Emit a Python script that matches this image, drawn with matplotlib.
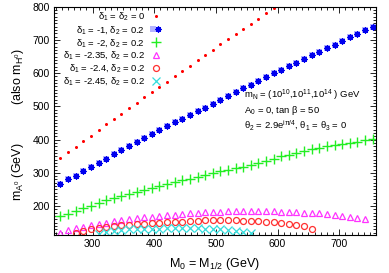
import numpy as np
import matplotlib
matplotlib.use('Agg')
import matplotlib.pyplot as plt
from matplotlib.ticker import MultipleLocator
from matplotlib.legend_handler import HandlerTuple

plt.rcParams['font.family'] = ['Liberation Sans', 'DejaVu Sans']
plt.rcParams['mathtext.fontset'] = 'custom'
plt.rcParams['mathtext.rm'] = 'Liberation Sans'
plt.rcParams['mathtext.it'] = 'Liberation Sans'
plt.rcParams['mathtext.bf'] = 'Liberation Sans'

# M0 = M1/2 grid (GeV)
m0 = np.linspace(248, 754, 42)

# m_A0 (GeV) for each delta choice
red_dots = [345, 364, 379, 396, 412, 429, 446, 462, 478, 495, 511, 528, 543, 559,
            574, 590, 607, 622, 639, 654, 670, 687, 702, 718, 733, 749, 764, 780,
            796, 812]
blue_star = [266, 280, 292, 305, 317, 330, 342, 356, 368, 380, 393, 404, 416, 428,
             441, 454, 463, 475, 485, 496, 507, 518, 530, 542, 554, 565, 576, 587,
             600, 609, 621, 631, 643, 654, 664, 675, 685, 696, 708, 717, 729, 740]
green_plus = [169, 177, 185, 194, 201, 209, 217, 223, 230, 236, 243, 249, 255, 260,
              267, 273, 278, 283, 288, 294, 299, 305, 309, 314, 318, 323, 329, 337,
              342, 350, 355, 361, 366, 371, 375, 380, 384, 387, 390, 394, 398, 402]
mag_tri = [120, 127, 133, 138, 142, 147, 150, 154, 157, 160, 163, 166, 168, 170,
           172, 174, 176, 178, 180, 182, 182, 183, 184, 184, 185, 185, 185, 184,
           184, 183, 182, 181, 180, 179, 178, 176, 173, 171, 168, 165, 160]
circ_start = 2
red_circ = [118, 124, 130, 134, 138, 140, 142, 144, 146, 147, 148, 149, 151, 152,
            153, 155, 156, 157, 157, 157, 157, 157, 156, 155, 154, 153, 151, 149,
            147, 144, 139, 131]
cross_start = 5
cyan_x = [115, 121, 125, 128, 130, 131, 132, 132, 132, 133, 133, 133, 133, 133,
          132, 132, 131, 129, 126, 123, 119]

labels = ['δ$_1$ = δ$_2$ = 0', 'δ$_1$ = -1, δ$_2$ = 0.2', 'δ$_1$ = -2, δ$_2$ = 0.2',
          'δ$_1$ = -2.35, δ$_2$ = 0.2', 'δ$_1$ = -2.4, δ$_2$ = 0.2',
          'δ$_1$ = -2.45, δ$_2$ = 0.2']

fig = plt.figure(figsize=(3.89, 2.73), dpi=100)
ax = fig.add_axes([0.1396, 0.1392, 0.8262, 0.8363])

h1, = ax.plot(m0[:len(red_dots)], red_dots, 'o', color='#ff0000', ms=2.2, mew=0)
hb1, = ax.plot(m0[:len(blue_star)], blue_star, 's', color='#b4b4ff', ms=4.3, mew=0)
hb2, = ax.plot(m0[:len(blue_star)], blue_star, marker=(8, 2, 0), ls='none',
               color='#0000ee', ms=4.3, mew=0.9)
h3, = ax.plot(m0[:len(green_plus)], green_plus, '+', color='#22ee22', ms=6.5, mew=1.0)
h4, = ax.plot(m0[:len(mag_tri)], mag_tri, '^', mfc='none', mec='#ff33ff', ms=4.0, mew=0.9)
h5, = ax.plot(m0[circ_start:circ_start + len(red_circ)], red_circ, 'o', mfc='none',
              mec='#ff3030', ms=4.3, mew=0.9)
h6, = ax.plot(m0[cross_start:cross_start + len(cyan_x)], cyan_x, 'x',
              color='#33dddd', ms=5.5, mew=0.9)

ax.set_xlim(238, 759)
ax.set_ylim(113, 800)
ax.xaxis.set_minor_locator(MultipleLocator(10))
ax.yaxis.set_minor_locator(MultipleLocator(10))
ax.set_xticks([300, 400, 500, 600, 700])
ax.set_yticks([200, 300, 400, 500, 600, 700, 800])
ax.tick_params(which='both', direction='in', top=True, right=True, labelsize=7.5,
               width=0.6, pad=3)
ax.tick_params(which='major', length=4)
ax.tick_params(which='minor', length=2)
for s in ax.spines.values():
    s.set_linewidth(0.8)

ax.set_xlabel('M$_0$ = M$_{1/2}$ (GeV)', fontsize=9, labelpad=5)
fig.text(0.045, 0.37, 'm$_{\\mathrm{A}^0}$ (GeV)', rotation=90, fontsize=9,
         ha='center', va='center')
fig.text(0.045, 0.72, '(also m$_{\\mathrm{H}^0}$)', rotation=90, fontsize=9,
         ha='center', va='center')

ax.legend([h1, (hb1, hb2), h3, h4, h5, h6], labels, loc='upper right',
          bbox_to_anchor=(0.33, 0.985), frameon=False, markerfirst=False,
          fontsize=6.8, handlelength=1.0, handletextpad=0.6, labelspacing=0.1,
          borderpad=0, borderaxespad=0,
          handler_map={tuple: HandlerTuple(ndivide=None)})

ax.text(0.59, 0.61, 'm$_\\mathrm{N}$ = (10$^{10}$,10$^{11}$,10$^{14}$ ) GeV',
        transform=ax.transAxes, fontsize=6.8, va='center')
ax.text(0.59, 0.545, 'A$_0$ = 0, tan β = 50', transform=ax.transAxes, fontsize=6.8,
        va='center')
ax.text(0.59, 0.48, 'θ$_2$ = 2.9e$^{\\mathrm{i}\\pi/4}$, θ$_1$ = θ$_3$ = 0',
        transform=ax.transAxes, fontsize=6.8, va='center')

fig.savefig('out.png', dpi=100)
